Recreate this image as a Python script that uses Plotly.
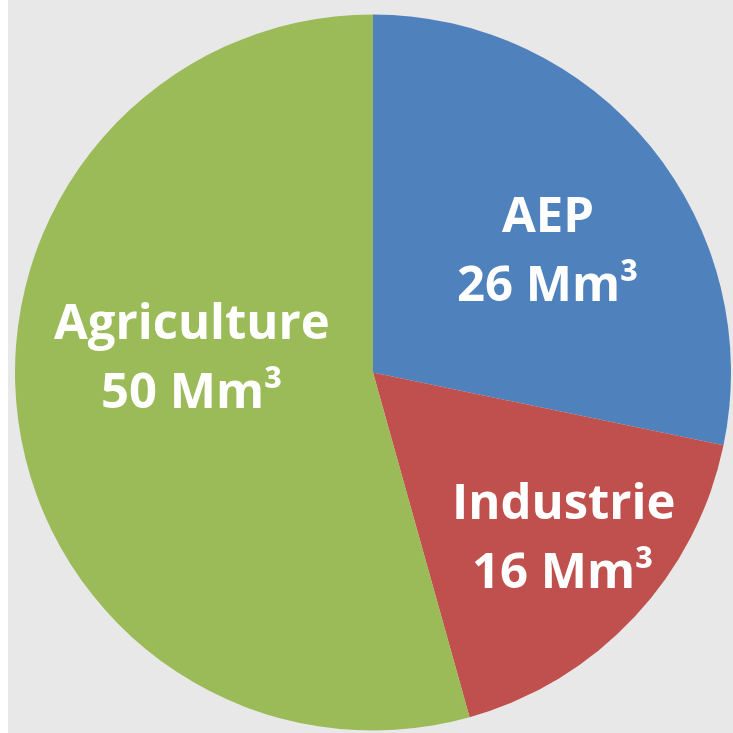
import plotly.graph_objects as go

categories = ["AEP", "Industrie", "Agriculture"]
values = [26, 16, 50]
unit = "Mm³"
colors = ["#4F81BD", "#C0504D", "#9BBB59"]

W = H = 733
fig = go.Figure()
fig.add_trace(go.Pie(
    labels=categories, values=values, sort=False, direction="clockwise",
    rotation=0, marker=dict(colors=colors, line=dict(width=0)),
    textinfo="none", hoverinfo="label+value", showlegend=False,
    domain=dict(x=[15 / W, 731 / W], y=[1 - 732 / H, 1 - 13 / H]),
))

# label centres (pixels) for each slice: (x, y of first line)
label_pos = {"AEP": (548, 213), "Industrie": (563, 500), "Agriculture": (192, 320)}
line_gap = 69
font = dict(family="Open Sans", size=49, color="white", weight="bold")
for cat, val in zip(categories, values):
    x, y = label_pos[cat]
    for i, txt in enumerate([cat, f"{val} {unit}"]):
        fig.add_annotation(x=x / W, y=1 - (y + i * line_gap) / H, xref="paper", yref="paper",
                           text=txt, showarrow=False, font=font,
                           xanchor="center", yanchor="middle")

fig.add_shape(type="rect", xref="paper", yref="paper", x0=0, x1=8 / W, y0=0, y1=1,
              fillcolor="white", line=dict(width=0), layer="below")
fig.update_layout(width=W, height=H, margin=dict(l=0, r=0, t=0, b=0),
                  paper_bgcolor="#E8E8E8", plot_bgcolor="#E8E8E8")
fig.write_html("out.html")
